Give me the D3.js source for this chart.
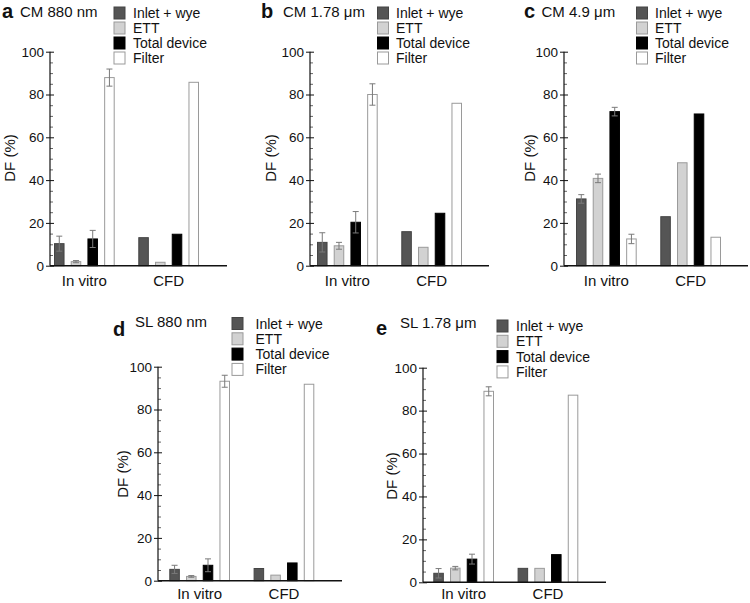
<!DOCTYPE html>
<html><head><meta charset="utf-8">
<script src="https://cdn.jsdelivr.net/npm/d3@7"></script>
<style>
body{margin:0;background:#fff;}
svg{font-family:"Liberation Sans",Arial,Helvetica,sans-serif;}
</style></head>
<body>
<svg id="chart" width="750" height="603"></svg>
<script>
// ---------- data ----------
const categories = ["In vitro", "CFD"];
const series = ["Inlet + wye", "ETT", "Total device", "Filter"];
const yTicks = [0, 20, 40, 60, 80, 100];
const yMinorTicks = [5, 10, 15, 25, 30, 35, 45, 50, 55, 65, 70, 75, 85, 90, 95];

const cm880InVitro = [10.3, 1.9, 12.5, 87.9];
const cm880InVitroErr = [3.5, 0.5, 4.0, 4.0];
const cm880CFD = [13.1, 1.6, 14.7, 85.7];

const cm178InVitro = [10.9, 9.3, 20.3, 80.0];
const cm178InVitroErr = [4.5, 1.6, 5.0, 5.0];
const cm178CFD = [15.9, 8.6, 24.5, 75.9];

const cm49InVitro = [31.2, 40.8, 72.0, 12.5];
const cm49InVitroErr = [2.0, 2.0, 2.0, 2.2];
const cm49CFD = [22.9, 48.1, 70.9, 13.3];

const sl880InVitro = [5.3, 2.0, 7.2, 93.2];
const sl880InVitroErr = [1.9, 0.4, 3.0, 2.8];
const sl880CFD = [5.7, 2.6, 8.3, 91.8];

const sl178InVitro = [4.2, 6.6, 10.8, 89.0];
const sl178InVitroErr = [2.2, 0.8, 2.3, 2.1];
const sl178CFD = [6.5, 6.5, 12.9, 87.2];

const panelLetters = ["a", "b", "c", "d", "e"];
const panelTitles = ["CM 880 nm", "CM 1.78 \u03bcm", "CM 4.9 \u03bcm", "SL 880 nm", "SL 1.78 \u03bcm"];
const yLabel = "DF (%)";

// ---------- styles ----------
const fills = ["#555555", "#d2d2d2", "#000000", "#ffffff"];
const strokes = ["#444444", "#9a9a9a", "#000000", "#9a9a9a"];

// ---------- layout ----------
const layouts = [
  {ax: 50, right: 227, top: 51.7, bot: 265.7, barStart: 54,
   letter: [2, 18], title: [20, 17], leg: [114, 7], legText: 133, legPitch: 15, ylab: [14.5, 158], catY: 285.5},
  {ax: 310, right: 489, top: 51.7, bot: 265.7, barStart: 317,
   letter: [261, 18], title: [283, 17], leg: [377.5, 7], legText: 396, legPitch: 15, ylab: [276, 158], catY: 285.5},
  {ax: 564, right: 748, top: 51.7, bot: 265.7, barStart: 576,
   letter: [524, 18], title: [541.5, 17], leg: [636.5, 7], legText: 655, legPitch: 15, ylab: [534.5, 158], catY: 285.5},
  {ax: 158, right: 342, top: 366.7, bot: 580.7, barStart: 169.3,
   letter: [113, 336], title: [135, 327], leg: [232, 317.5], legText: 255.5, legPitch: 15.3, ylab: [128, 474], catY: 599},
  {ax: 423, right: 606, top: 367.7, bot: 582.3, barStart: 433.3,
   letter: [376, 335], title: [400, 328], leg: [497, 320], legText: 516, legPitch: 15.3, ylab: [397, 476], catY: 599}
];

const panelData = [
  [cm880InVitro, cm880InVitroErr, cm880CFD],
  [cm178InVitro, cm178InVitroErr, cm178CFD],
  [cm49InVitro, cm49InVitroErr, cm49CFD],
  [sl880InVitro, sl880InVitroErr, sl880CFD],
  [sl178InVitro, sl178InVitroErr, sl178CFD]
];

const svg = d3.select("#chart");

panelData.forEach((pd, i) => {
  const L = layouts[i];
  const g = svg.append("g");
  const rows = [];
  series.forEach((s, k) => {
    rows.push({cat: categories[0], s, k, v: pd[0][k], e: pd[1][k]});
    rows.push({cat: categories[1], s, k, v: pd[2][k], e: null});
  });

  const y = d3.scaleLinear().domain([0, 100]).range([L.bot, L.top]);
  const x0 = d3.scaleBand().domain(categories).range([L.barStart, L.barStart + 145]).paddingInner(0.28).paddingOuter(0);
  const x1 = d3.scaleBand().domain(series).range([0, x0.bandwidth()]).paddingInner(0.37).paddingOuter(0);

  // bars
  g.selectAll("rect.bar").data(rows).join("rect")
    .attr("class", "bar")
    .attr("x", d => x0(d.cat) + x1(d.s) + 0.5)
    .attr("width", x1.bandwidth() - 1)
    .attr("y", d => y(d.v))
    .attr("height", d => y(0) - y(d.v))
    .attr("fill", d => fills[d.k])
    .attr("stroke", d => strokes[d.k])
    .attr("stroke-width", 1);

  // error bars
  const errRows = rows.filter(d => d.e != null);
  const eg = g.selectAll("g.err").data(errRows).join("g").attr("class", "err")
    .attr("stroke", "#7a7a7a").attr("stroke-width", 1);
  eg.append("line")
    .attr("x1", d => x0(d.cat) + x1(d.s) + x1.bandwidth() / 2)
    .attr("x2", d => x0(d.cat) + x1(d.s) + x1.bandwidth() / 2)
    .attr("y1", d => y(d.v - d.e)).attr("y2", d => y(d.v + d.e));
  [1, -1].forEach(sgn => {
    eg.append("line")
      .attr("x1", d => x0(d.cat) + x1(d.s) + x1.bandwidth() / 2 - 3)
      .attr("x2", d => x0(d.cat) + x1(d.s) + x1.bandwidth() / 2 + 3)
      .attr("y1", d => y(d.v + sgn * d.e)).attr("y2", d => y(d.v + sgn * d.e));
  });

  // y axis (outer part with labels)
  const ya = g.append("g").attr("transform", `translate(${L.ax},0)`)
    .call(d3.axisLeft(y).tickValues(yTicks).tickSize(4).tickPadding(2));
  ya.select(".domain").remove();
  ya.selectAll("text").attr("font-size", 13.5).attr("font-family", "Liberation Sans, Arial, sans-serif").attr("fill", "#111");
  ya.selectAll("line").attr("stroke", "#111");
  // inner part of major ticks
  const yi = g.append("g").attr("transform", `translate(${L.ax},0)`)
    .call(d3.axisLeft(y).tickValues(yTicks).tickSize(-4).tickFormat(""));
  yi.select(".domain").remove();
  yi.selectAll("line").attr("stroke", "#111");
  // minor ticks
  const ym = g.append("g").attr("transform", `translate(${L.ax},0)`)
    .call(d3.axisLeft(y).tickValues(yMinorTicks).tickSize(-3).tickFormat(""));
  ym.select(".domain").remove();
  ym.selectAll("line").attr("stroke", "#666");
  // axis lines
  g.append("line").attr("x1", L.ax).attr("x2", L.ax).attr("y1", y(100)).attr("y2", y(0))
    .attr("stroke", "#111").attr("stroke-width", 1.2);
  g.append("line").attr("x1", L.ax).attr("x2", L.right).attr("y1", y(0)).attr("y2", y(0))
    .attr("stroke", "#111").attr("stroke-width", 1.4);

  // category labels
  const xa = g.append("g").attr("transform", `translate(0,${L.catY})`)
    .call(d3.axisBottom(x0).tickSize(0).tickPadding(0));
  xa.select(".domain").remove();
  xa.selectAll("text").attr("font-size", 15).attr("font-family", "Liberation Sans, Arial, sans-serif")
    .attr("fill", "#111").attr("dy", 0).attr("y", 0);

  // y label
  g.append("text").attr("transform", `translate(${L.ylab[0]},${L.ylab[1]}) rotate(-90)`)
    .attr("text-anchor", "middle").attr("font-size", 15).attr("fill", "#111").text(yLabel);

  // panel letter & title
  g.append("text").attr("x", L.letter[0]).attr("y", L.letter[1])
    .attr("font-size", 20).attr("font-weight", "bold").attr("fill", "#111").text(panelLetters[i]);
  g.append("text").attr("x", L.title[0]).attr("y", L.title[1])
    .attr("font-size", 15).attr("fill", "#111").text(panelTitles[i]);

  // legend
  const lg = g.append("g");
  series.forEach((s, k) => {
    const yy = L.leg[1] + k * L.legPitch;
    lg.append("rect").attr("x", L.leg[0]).attr("y", yy).attr("width", 11).attr("height", 12)
      .attr("fill", fills[k]).attr("stroke", strokes[k]).attr("stroke-width", 1);
    lg.append("text").attr("x", L.legText).attr("y", yy + 11)
      .attr("font-size", 14).attr("fill", "#111").text(s);
  });
});
</script>
</body></html>
